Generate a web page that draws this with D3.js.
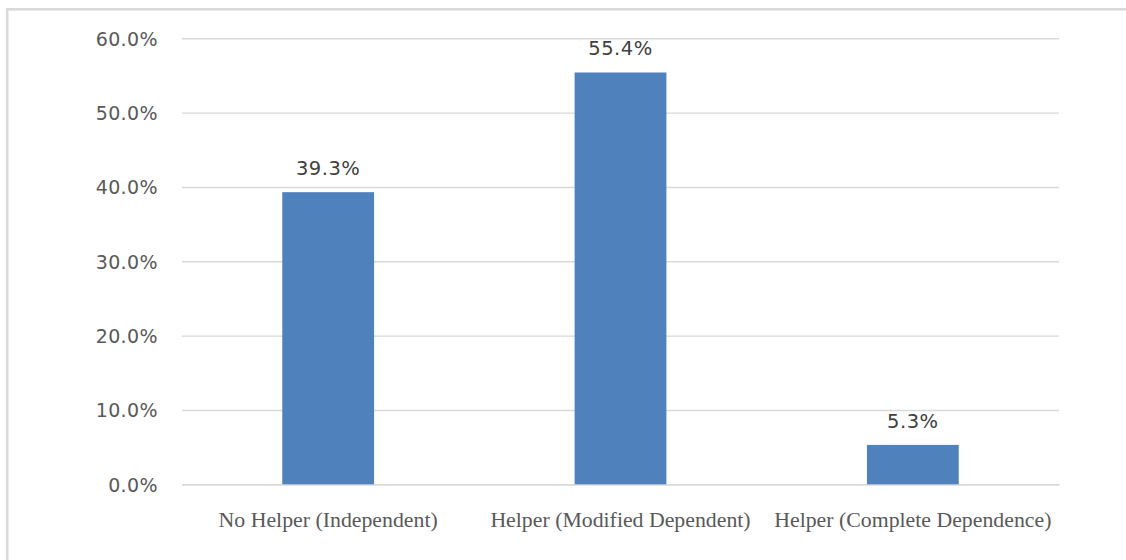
<!DOCTYPE html>
<html><head><meta charset="utf-8">
<script src="https://cdn.jsdelivr.net/npm/d3@7"></script>
<style>body{margin:0;background:#fff;}svg{display:block;}</style>
</head><body>
<svg id="chart" width="1126" height="560"></svg>
<script>
const categories = ["No Helper (Independent)", "Helper (Modified Dependent)", "Helper (Complete Dependence)"];
const values = [39.3, 55.4, 5.3];
const valueLabels = ["39.3%", "55.4%", "5.3%"];
const yTicks = [0, 10, 20, 30, 40, 50, 60];
const yTickLabels = ["0.0%", "10.0%", "20.0%", "30.0%", "40.0%", "50.0%", "60.0%"];

(function () {
const svg = d3.select("#chart");
svg.append("rect").attr("x", 7.2).attr("y", 9.3).attr("width", 1140).attr("height", 570)
  .attr("fill", "#fff").attr("stroke", "#D9D9D9").attr("stroke-width", 2.6);

const mLeft = 182, mRight = 1059, mTop = 38.3, mBottom = 484.3;
const x = d3.scaleBand().domain(categories).range([mLeft, mRight]).paddingInner(0.686).paddingOuter(0.343);
const y = d3.scaleLinear().domain([0, 60]).range([mBottom, mTop]);

const yAxis = d3.axisLeft(y).tickValues(yTicks).tickSize(-(mRight - mLeft)).tickPadding(24)
  .tickFormat((d, i) => yTickLabels[i]);
const gy = svg.append("g").attr("transform", `translate(${mLeft},0)`).call(yAxis);
gy.select(".domain").remove();
gy.selectAll(".tick line").attr("stroke", "#D9D9D9").attr("stroke-width", 1.4);
gy.selectAll(".tick text").attr("fill", "#595959").style("font-family", "DejaVu Sans")
  .style("font-size", "19px").style("letter-spacing", "0.4px").attr("dy", "0.36em");

const xAxis = d3.axisBottom(x).tickSize(0).tickPadding(0);
const gx = svg.append("g").attr("transform", `translate(0,${mBottom})`).call(xAxis);
gx.select(".domain").attr("stroke", "#D9D9D9").attr("stroke-width", 1.6);
gx.selectAll(".tick text").attr("fill", "#595959").style("font-family", "Liberation Serif")
  .style("font-size", "21.8px").attr("y", 43).attr("dy", 0);

svg.append("g").selectAll("rect").data(values).join("rect")
  .attr("x", (d, i) => x(categories[i])).attr("width", x.bandwidth())
  .attr("y", d => y(d)).attr("height", d => mBottom - y(d)).attr("fill", "#4F81BD");

svg.append("g").selectAll("text").data(values).join("text")
  .attr("x", (d, i) => x(categories[i]) + x.bandwidth() / 2).attr("y", d => y(d) - 17)
  .attr("text-anchor", "middle").attr("fill", "#404040")
  .style("font-family", "DejaVu Sans").style("font-size", "19.5px").style("letter-spacing", "0.5px")
  .text((d, i) => valueLabels[i]);
})();
</script>
</body></html>
